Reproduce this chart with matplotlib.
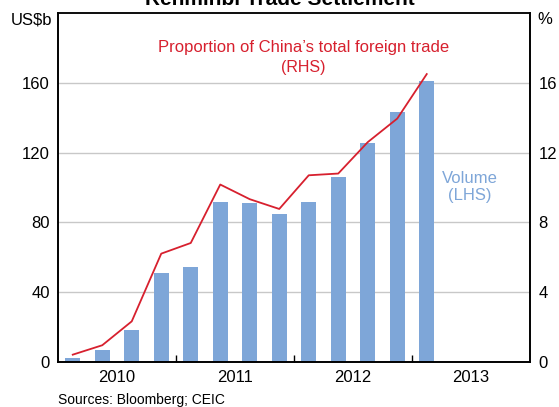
import numpy as np
import matplotlib
matplotlib.use("Agg")
from matplotlib import pyplot as plt

plt.rcParams['font.family'] = ['Liberation Sans', 'DejaVu Sans']

# quarterly data, 2010 Q1 .. 2013 Q1
quarters = ['2010Q1', '2010Q2', '2010Q3', '2010Q4',
            '2011Q1', '2011Q2', '2011Q3', '2011Q4',
            '2012Q1', '2012Q2', '2012Q3', '2012Q4', '2013Q1']
volume = [2.1, 6.7, 18.2, 50.9, 54.4, 91.7, 91.1, 84.8, 91.7, 106.0, 125.5, 143.3, 161.0]
share = [0.42, 0.96, 2.33, 6.21, 6.82, 10.17, 9.33, 8.77, 10.7, 10.8, 12.6, 13.95, 16.5]
years = ['2010', '2011', '2012', '2013']

bar_col = '#7ea6d8'
line_col = '#d7202e'

fig = plt.figure(figsize=(5.59, 4.07), dpi=100)
ax = fig.add_axes([58/559, 1 - 362/407, (530 - 58)/559, (362 - 13)/407])
ax2 = ax.twinx()

x = np.arange(len(quarters))
ax.bar(x, volume, width=0.52, color=bar_col, zorder=2)
ax2.plot(x, share, color=line_col, lw=1.3, zorder=3)

ax.set_xlim(-0.5, 15.5)
ax.set_ylim(0, 200)
ax2.set_ylim(0, 20)
ax.set_yticks([0, 40, 80, 120, 160])
ax2.set_yticks([0, 4, 8, 12, 16])
ax.yaxis.grid(True, color='#c8c8c8', lw=1, zorder=0)
ax.set_axisbelow(True)

# year boundaries as ticks, year names centred in between
ax.set_xticks([3.5, 7.5, 11.5])
ax.set_xticklabels([])
ax.set_xticks([1.5, 5.5, 9.5, 13.5], minor=True)
ax.set_xticklabels(years, minor=True)
ax.tick_params(axis='x', which='major', direction='in', length=5, width=1)
ax.tick_params(axis='x', which='minor', length=0, labelsize=12, pad=6)
ax.tick_params(axis='y', length=0, labelsize=12, pad=6)
ax2.tick_params(axis='y', length=0, labelsize=12, pad=6)

for a in (ax, ax2):
    for s in a.spines.values():
        s.set_linewidth(1.2)
        s.set_color('black')
ax.spines['top'].set_color('#555555')

fig.text(52/559, 1 - 20/407, 'US$b', ha='right', va='center', fontsize=12)
fig.text(537/559, 1 - 20/407, '%', ha='left', va='center', fontsize=12)

ax.text(0.52, 0.9, 'Proportion of China\u2019s total foreign trade', transform=ax.transAxes,
        ha='center', va='center', color=line_col, fontsize=12)
ax.text(0.52, 0.845, '(RHS)', transform=ax.transAxes,
        ha='center', va='center', color=line_col, fontsize=11.5)
ax.text(470/559, 1 - 187/407, 'Volume\n(LHS)', transform=fig.transFigure,
        ha='center', va='center', color=bar_col, fontsize=12, linespacing=1.1)

fig.text(0.5, 1 - 5/407, 'Renminbi Trade Settlement', ha='center', va='baseline',
         fontsize=15, fontweight='bold')
fig.text(58/559, 1 - 400/407, 'Sources: Bloomberg; CEIC', ha='left', va='center', fontsize=10)

fig.savefig('out.png', dpi=100)
